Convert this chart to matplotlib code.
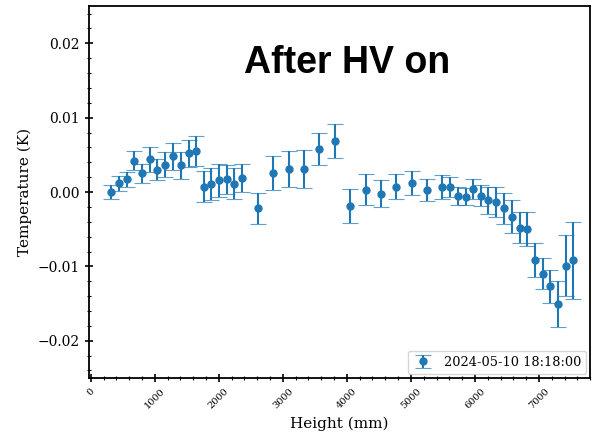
import matplotlib
matplotlib.use("Agg")
import matplotlib.pyplot as plt
from matplotlib.ticker import MultipleLocator

# Height positions (mm) along the stack
heights = [323, 442, 562, 683, 802, 922, 1042, 1161, 1286, 1406,
           1527, 1640, 1766, 1886, 2005, 2125, 2245, 2364,
           2605, 2848, 3089, 3328, 3567, 3808, 4047, 4292, 4531, 4770,
           5011, 5245, 5489, 5609, 5730, 5855, 5973, 6089, 6208, 6328,
           6453, 6573, 6698, 6812, 6933, 7058, 7177, 7297, 7422, 7536]

# Temperature offset (K) and uncertainty
temps = [0.0000, 0.0012, 0.0017, 0.0042, 0.0025, 0.0044, 0.0030, 0.0037, 0.0048, 0.0036,
         0.0052, 0.0055, 0.0007, 0.0011, 0.0016, 0.0017, 0.0011, 0.0019,
         -0.0022, 0.0026, 0.0031, 0.0031, 0.0058, 0.0069, -0.0019, 0.0003, -0.0002, 0.0007,
         0.0012, 0.0003, 0.0007, 0.0007, -0.0005, -0.0006, 0.0004, -0.0005, -0.0011, -0.0013,
         -0.0022, -0.0033, -0.0048, -0.0050, -0.0091, -0.0110, -0.0127, -0.0150, -0.0099, -0.0092]

errors = [0.0010, 0.0010, 0.0010, 0.0013, 0.0013, 0.0017, 0.0014, 0.0017, 0.0018, 0.0018,
          0.0018, 0.0020, 0.0021, 0.0022, 0.0022, 0.0020, 0.0021, 0.0019,
          0.0021, 0.0023, 0.0024, 0.0025, 0.0022, 0.0023, 0.0023, 0.0021, 0.0018, 0.0017,
          0.0016, 0.0015, 0.0016, 0.0013, 0.0012, 0.0012, 0.0013, 0.0014, 0.0018, 0.0020,
          0.0021, 0.0022, 0.0021, 0.0023, 0.0023, 0.0021, 0.0022, 0.0031, 0.0041, 0.0052]

run_label = "2024-05-10 18:18:00"

plt.rcParams["font.family"] = "DejaVu Serif"

fig = plt.figure(figsize=(5.92, 4.42), dpi=100)
ax = fig.add_axes([0.150, 0.145, 0.847, 0.841])

markers, caps, bars = ax.errorbar(heights, temps, yerr=errors, fmt="o", color="#1f77b4",
                                  markersize=5, elinewidth=1.5, capsize=5.5, capthick=0.8,
                                  label=run_label)
# lighter caps
for c in caps:
    c.set_alpha(0.7)

ax.set_xlim(-30, 7800)
ax.set_ylim(-0.025, 0.025)

ax.xaxis.set_major_locator(MultipleLocator(1000))
ax.xaxis.set_minor_locator(MultipleLocator(200))
ax.yaxis.set_major_locator(MultipleLocator(0.01))
ax.yaxis.set_minor_locator(MultipleLocator(0.002))
ax.tick_params(which="major", direction="inout", length=6, width=1.2, labelsize=10)
ax.tick_params(which="minor", direction="inout", length=3.5, width=0.8)
ax.tick_params(axis="x", labelsize=7, labelrotation=45)
for lab in ax.get_xticklabels():
    lab.set_ha("center")

for side in ("left", "bottom", "top", "right"):
    ax.spines[side].set_linewidth(1.3)

ax.set_xlabel("Height (mm)", fontsize=11)
ax.set_ylabel("Temperature (K)", fontsize=11)

ax.text(0.515, 0.847, "After HV on", transform=ax.transAxes, ha="center", va="center",
        fontsize=27, fontweight="bold", family="Liberation Sans")

ax.legend(loc="lower right", fontsize=9.3, frameon=True, borderaxespad=0.3,
          handlelength=1.6)

fig.savefig("out.png", dpi=100)
